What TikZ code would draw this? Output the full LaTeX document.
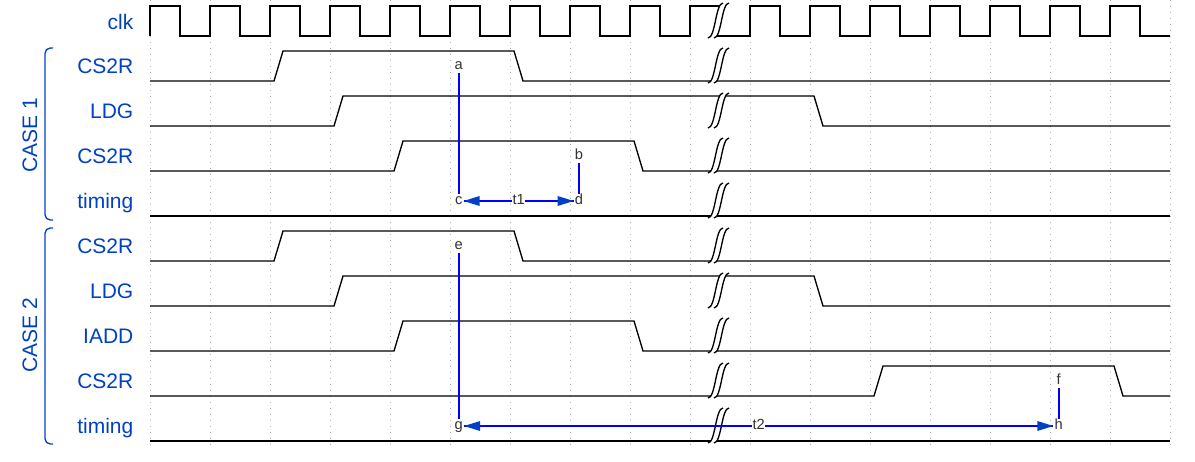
\documentclass[tikz,border=0pt]{standalone}
\usepackage{fontspec}
\setmainfont{Liberation Sans}
\definecolor{wdblue}{HTML}{0041C4}
\newcommand\lanefont{\fontsize{15.75}{18}\selectfont}
\newcommand\edgefont{\fontsize{11}{12}\selectfont}

\tikzset{every picture/.style={line width=1pt}}
\tikzset{
  gridline/.style={color=black!30, line width=0.6pt, dash pattern=on 0.75pt off 3.75pt},
  lanelbl/.style={anchor=base east, inner sep=0pt, font=\lanefont, text=wdblue},
  grouplbl/.style={rotate=90, inner sep=0pt, font=\lanefont, text=wdblue},
  edgelbl/.style={font=\edgefont, text=black!80, fill=white, inner sep=0.5pt, text height=7pt, text depth=1.6pt},
  edgeline/.style={color=blue, line width=1.3pt},
  gapmark/.pic={
    \fill [white] (-10.5,-17.5) .. controls (-3,-17.5) and (-3,17.5) .. (4.5,17.5) -- (10.5,17.5) .. controls (3,17.5) and (3,-17.5) .. (-4.5,-17.5) -- cycle ;
    \draw (-10.5,-17.5) .. controls (-3,-17.5) and (-3,17.5) .. (4.5,17.5) ;
    \draw (-4.5,-17.5) .. controls (3,-17.5) and (3,17.5) .. (10.5,17.5) ;
  }
}

\begin{document}
\begin{tikzpicture}[x=0.75pt,y=0.75pt,yscale=-1,xscale=1]
\useasboundingbox (0,0) rectangle (1195,461);

%Grid
\foreach \x in {150,210,...,1170} \draw [gridline] (\x,0) -- (\x,445) ;

%Clock
\draw (150,36) foreach \s in {150,210,...,630} { -- (\s,6) -- (\s+30,6) -- (\s+30,36) -- (\s+60,36) } -- (690,6) -- (720,6) ;
\draw (716,36) -- (750,36) foreach \s in {750,810,...,1110} { -- (\s,6) -- (\s+30,6) -- (\s+30,36) -- (\s+60,36) } ;

%Case 1 waves
\draw (150,81) -- (274,81) -- (283,51) -- (514,51) -- (523,81) -- (1170,81) ;
\draw (150,126) -- (334,126) -- (343,96) -- (814,96) -- (823,126) -- (1170,126) ;
\draw (150,171) -- (394,171) -- (403,141) -- (634,141) -- (643,171) -- (1170,171) ;
\draw (150,216) -- (1170,216) ;
%Case 2 waves
\draw (150,261) -- (274,261) -- (283,231) -- (514,231) -- (523,261) -- (1170,261) ;
\draw (150,306) -- (334,306) -- (343,276) -- (814,276) -- (823,306) -- (1170,306) ;
\draw (150,351) -- (394,351) -- (403,321) -- (634,321) -- (643,351) -- (1170,351) ;
\draw (150,396) -- (874,396) -- (883,366) -- (1114,366) -- (1123,396) -- (1170,396) ;
\draw (150,441) -- (1170,441) ;

%Gaps
\foreach \y in {20.5,65.5,110.5,155.5,200.5,245.5,290.5,335.5,380.5,425.5} \pic at (718.5,\y) {gapmark} ;

% Text Node
\draw (134,29) node [lanelbl] (lclk) {clk};
% Text Node
\draw (134,73.5) node [lanelbl] (lcsra) {CS2R};
% Text Node
\draw (134,118.5) node [lanelbl] (lldga) {LDG};
% Text Node
\draw (134,163.5) node [lanelbl] (lcsrb) {CS2R};
% Text Node
\draw (134,208.5) node [lanelbl] (ltima) {timing};
% Text Node
\draw (134,253.5) node [lanelbl] (lcsrc) {CS2R};
% Text Node
\draw (134,298.5) node [lanelbl] (lldgb) {LDG};
% Text Node
\draw (134,343.5) node [lanelbl] (liadd) {IADD};
% Text Node
\draw (134,388.5) node [lanelbl] (lcsrd) {CS2R};
% Text Node
\draw (134,433.5) node [lanelbl] (ltimb) {timing};

%Groups
\draw [color=wdblue, rounded corners=4pt] (53,48) -- (45,48) -- (45,220) -- (53,220) ;
\draw (30,135) node [grouplbl] (gcasea) {CASE 1};
\draw [color=wdblue, rounded corners=4pt] (53,228) -- (45,228) -- (45,444) -- (53,444) ;
\draw (30,335) node [grouplbl] (gcaseb) {CASE 2};

% Edge Nodes
\draw (458.7,66) node [edgelbl] (a) {a};
\draw (579,156) node [edgelbl] (b) {b};
\draw (458.7,201) node [edgelbl] (c) {c};
\draw (579,201) node [edgelbl] (d) {d};
\draw (458.7,246) node [edgelbl] (e) {e};
\draw (1058.7,381) node [edgelbl] (f) {f};
\draw (458.7,426) node [edgelbl] (g) {g};
\draw (1058.7,426) node [edgelbl] (h) {h};

%Edges
\draw [edgeline] (a) -- (c) ;
\draw [edgeline] (b) -- (d) ;
\draw [edgeline] (c) -- (d) node [midway, edgelbl] (tone) {t1} ;
\draw [shift={(c.east)}, rotate = 0] [fill=wdblue] [draw opacity=0] (16,-5) -- (0,0) -- (16,5) -- cycle ;
\draw [shift={(d.west)}, rotate = 180] [fill=wdblue] [draw opacity=0] (16,-5) -- (0,0) -- (16,5) -- cycle ;
\draw [edgeline] (e) -- (g) ;
\draw [edgeline] (f) -- (h) ;
\draw [edgeline] (g) -- (h) node [midway, edgelbl] (ttwo) {t2} ;
\draw [shift={(g.east)}, rotate = 0] [fill=wdblue] [draw opacity=0] (16,-5) -- (0,0) -- (16,5) -- cycle ;
\draw [shift={(h.west)}, rotate = 180] [fill=wdblue] [draw opacity=0] (16,-5) -- (0,0) -- (16,5) -- cycle ;

\end{tikzpicture}
\end{document}
